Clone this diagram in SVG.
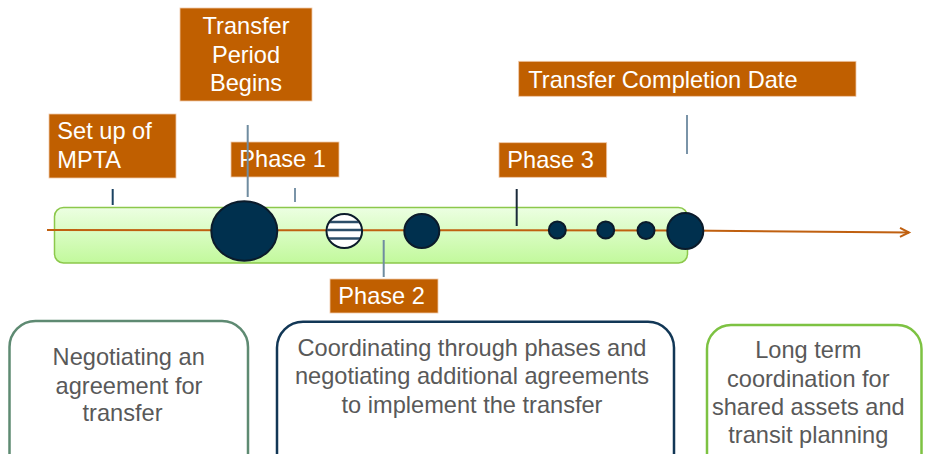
<svg xmlns="http://www.w3.org/2000/svg" width="935" height="454" viewBox="0 0 935 454">
<defs>
<linearGradient id="barGrad" x1="0" y1="0" x2="0" y2="1">
<stop offset="0" stop-color="#ecffe2"/>
<stop offset="1" stop-color="#c2f99c"/>
</linearGradient>
<clipPath id="stripeClip"><ellipse cx="344.3" cy="231" rx="17" ry="16.2"/></clipPath>
<marker id="chev" markerWidth="14" markerHeight="14" refX="10" refY="5" orient="auto" markerUnits="userSpaceOnUse">
<path d="M1,0.5 L10,5 L1,9.5" fill="none" stroke="#c06010" stroke-width="2"/>
</marker>
</defs>
<style>
.lbl{fill:#c05f00;stroke:#f0c8a8;stroke-width:0.8}
.lt{font-family:"Liberation Sans",Arial,sans-serif;font-size:23.6px;fill:#ffffff}
.bt{font-family:"Liberation Sans",Arial,sans-serif;font-size:23.6px;fill:#595959;text-anchor:middle}
.tick{stroke-width:2;fill:none}
.dot{fill:#00304e;stroke:#0b1b2b;stroke-width:2}
</style>

<g id="timeline-bar">
<rect x="54.5" y="207.5" width="633" height="55.5" rx="9" fill="url(#barGrad)" stroke="#8cc84b" stroke-width="1.5"/>
</g>

<g id="label-setup">
<rect class="lbl" x="49" y="114" width="127" height="64"/>
<text class="lt" x="57.3" y="139.3">Set up of</text>
<text class="lt" x="57.3" y="168.3">MPTA</text>
</g>

<g id="label-transfer-period">
<rect class="lbl" x="180" y="8" width="132" height="93"/>
<text class="lt" x="246" y="34" text-anchor="middle">Transfer</text>
<text class="lt" x="246" y="62.7" text-anchor="middle">Period</text>
<text class="lt" x="246" y="90.7" text-anchor="middle">Begins</text>
</g>

<g id="label-phase1">
<rect class="lbl" x="231" y="142" width="108" height="35"/>
<text class="lt" x="239.3" y="166.7">Phase 1</text>
</g>

<g id="label-phase2">
<rect class="lbl" x="330" y="279" width="108" height="34"/>
<text class="lt" x="338.3" y="304.3">Phase 2</text>
</g>

<g id="label-phase3">
<rect class="lbl" x="499" y="142.7" width="107.7" height="34.6"/>
<text class="lt" x="507.3" y="167.7">Phase 3</text>
</g>

<g id="label-completion">
<rect class="lbl" x="518.7" y="61.3" width="337.3" height="35"/>
<text class="lt" x="528.3" y="87.7">Transfer Completion Date</text>
</g>

<g id="connectors">
<path d="M47,230 L686,230.5 L909,232.5" fill="none" stroke="#c06010" stroke-width="2" marker-end="url(#chev)"/>
<line class="tick" x1="112.7" y1="189" x2="112.7" y2="205" stroke="#1a4262"/>
<line class="tick" x1="247.7" y1="125" x2="247.7" y2="197" stroke="#6f8ca0"/>
<line class="tick" x1="295" y1="188" x2="295" y2="202" stroke="#7a94a8"/>
<line class="tick" x1="383.7" y1="240" x2="383.7" y2="277" stroke="#6f8ca0"/>
<line class="tick" x1="516.7" y1="189" x2="516.7" y2="226" stroke="#1a2a3a"/>
<line class="tick" x1="687" y1="115" x2="687" y2="154" stroke="#7a94a8"/>
</g>

<g id="milestones">
<ellipse class="dot" cx="244.3" cy="231" rx="33" ry="29.7"/>
<g id="striped-milestone">
<ellipse cx="344.3" cy="231" rx="17.8" ry="17" fill="#ffffff"/>
<g clip-path="url(#stripeClip)" stroke="#2b4d68" stroke-width="2.5">
<line x1="320" y1="222" x2="370" y2="222"/>
<line x1="320" y1="230" x2="370" y2="230"/>
<line x1="320" y1="238.5" x2="370" y2="238.5"/>
</g>
<ellipse cx="344.3" cy="231" rx="17.8" ry="17" fill="none" stroke="#0b1b2b" stroke-width="2"/>
</g>
<ellipse class="dot" cx="421.8" cy="231" rx="17.5" ry="17"/>
<circle class="dot" cx="557.3" cy="230" r="8.5"/>
<circle class="dot" cx="605.7" cy="230" r="8.5"/>
<circle class="dot" cx="646" cy="230.5" r="8.5"/>
<circle class="dot" cx="685.3" cy="231" r="18"/>
</g>

<g id="box-negotiating">
<rect x="9.5" y="321" width="238.5" height="160" rx="26" fill="#ffffff" stroke="#5e8a72" stroke-width="2.5"/>
<text class="bt" x="128.7" y="365">Negotiating an</text>
<text class="bt" x="129" y="393.5">agreement for</text>
<text class="bt" x="122.5" y="421">transfer</text>
</g>

<g id="box-coordinating">
<rect x="277" y="321.7" width="397" height="160" rx="26" fill="#ffffff" stroke="#123756" stroke-width="2.5"/>
<text class="bt" x="472" y="356">Coordinating through phases and</text>
<text class="bt" x="472" y="384.3">negotiating additional agreements</text>
<text class="bt" x="472" y="412.7">to implement the transfer</text>
</g>

<g id="box-longterm">
<rect x="707" y="325" width="214.5" height="160" rx="24" fill="#ffffff" stroke="#7dc242" stroke-width="2.5"/>
<text class="bt" x="808.3" y="358.3">Long term</text>
<text class="bt" x="808.3" y="386.7">coordination for</text>
<text class="bt" x="808.3" y="415">shared assets and</text>
<text class="bt" x="808.3" y="443">transit planning</text>
</g>
</svg>
